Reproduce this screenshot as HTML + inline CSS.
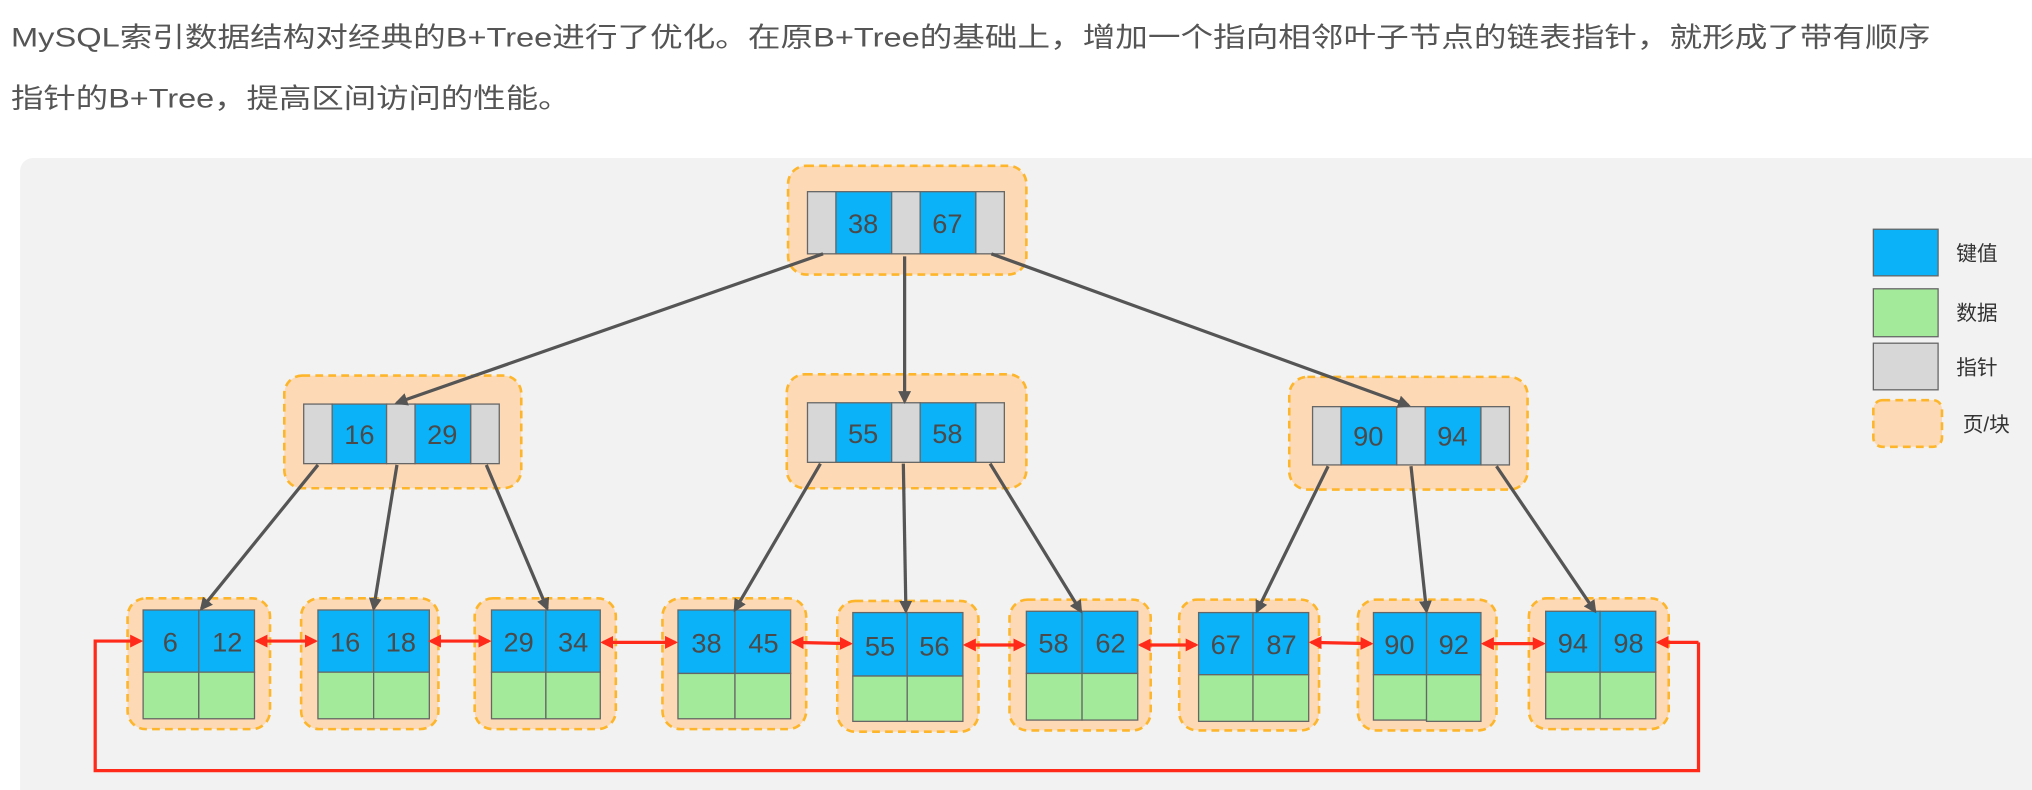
<!DOCTYPE html>
<html><head><meta charset="utf-8"><style>
html,body{margin:0;padding:0;background:#fff;}
svg{display:block;}
</style></head><body>
<svg width="2032" height="790" viewBox="0 0 1568 610" xmlns="http://www.w3.org/2000/svg">
<defs>
<marker id="ag" markerWidth="10" markerHeight="10" refX="8" refY="5" orient="auto" markerUnits="userSpaceOnUse"><path d="M0,0 L10,5 L0,10 z" fill="#555"/></marker>
<marker id="ar" markerWidth="10" markerHeight="10" refX="8" refY="5" orient="auto" markerUnits="userSpaceOnUse"><path d="M0,0 L10,5 L0,10 z" fill="#ff2a1a"/></marker>
<marker id="arS" markerWidth="10" markerHeight="10" refX="2" refY="5" orient="auto" markerUnits="userSpaceOnUse"><path d="M10,0 L0,5 L10,10 z" fill="#ff2a1a"/></marker>
</defs>
<g font-family="'Liberation Sans','Noto Sans CJK SC',sans-serif" fill="#555" font-size="21">
<text x="8" y="36" textLength="1482" lengthAdjust="spacingAndGlyphs">MySQL索引数据结构对经典的B+Tree进行了优化。在原B+Tree的基础上，增加一个指向相邻叶子节点的链表指针，就形成了带有顺序</text>
<text x="8" y="83" textLength="432" lengthAdjust="spacingAndGlyphs">指针的B+Tree，提高区间访问的性能。</text>
</g>
<rect x="15" y="122" width="1580" height="500" rx="10" fill="#f2f2f2"/>

<g fill="#fdd9b5" stroke="#fdb62b" stroke-width="2" stroke-dasharray="6,4">
<rect x="608" y="128" width="184" height="84" rx="14"/>
<rect x="219" y="290" width="183" height="87" rx="14"/>
<rect x="607" y="289" width="185" height="88" rx="14"/>
<rect x="995" y="291" width="184" height="87" rx="14"/>
<rect x="98" y="462" width="110" height="101" rx="14"/>
<rect x="232" y="462" width="106" height="101" rx="14"/>
<rect x="366" y="462" width="109" height="101" rx="14"/>
<rect x="511" y="462" width="111" height="101" rx="14"/>
<rect x="646" y="464" width="109" height="101" rx="14"/>
<rect x="779" y="463" width="109" height="101" rx="14"/>
<rect x="910" y="463" width="108" height="101" rx="14"/>
<rect x="1048" y="463" width="107" height="101" rx="14"/>
<rect x="1180" y="462" width="108" height="101" rx="14"/>
<rect x="1446" y="309" width="53" height="36" rx="7"/>
</g>

<g stroke="#666" stroke-width="1">
<!-- root -->
<rect x="623" y="148" width="22" height="48" fill="#d7d7d7"/><rect x="645" y="148" width="43" height="48" fill="#0bb2f7"/><rect x="688" y="148" width="22" height="48" fill="#d7d7d7"/><rect x="710" y="148" width="43" height="48" fill="#0bb2f7"/><rect x="753" y="148" width="22" height="48" fill="#d7d7d7"/>
<rect x="234" y="312" width="22" height="46" fill="#d7d7d7"/><rect x="256" y="312" width="42" height="46" fill="#0bb2f7"/><rect x="298" y="312" width="22" height="46" fill="#d7d7d7"/><rect x="320" y="312" width="43" height="46" fill="#0bb2f7"/><rect x="363" y="312" width="22" height="46" fill="#d7d7d7"/>
<rect x="623" y="311" width="22" height="46" fill="#d7d7d7"/><rect x="645" y="311" width="43" height="46" fill="#0bb2f7"/><rect x="688" y="311" width="22" height="46" fill="#d7d7d7"/><rect x="710" y="311" width="43" height="46" fill="#0bb2f7"/><rect x="753" y="311" width="22" height="46" fill="#d7d7d7"/>
<rect x="1013" y="314" width="22" height="45" fill="#d7d7d7"/><rect x="1035" y="314" width="43" height="45" fill="#0bb2f7"/><rect x="1078" y="314" width="22" height="45" fill="#d7d7d7"/><rect x="1100" y="314" width="43" height="45" fill="#0bb2f7"/><rect x="1143" y="314" width="22" height="45" fill="#d7d7d7"/>
<!-- legend -->
<rect x="1446" y="177" width="50" height="36" fill="#0bb2f7"/>
<rect x="1446" y="223" width="50" height="37" fill="#a3eb9a"/>
<rect x="1446" y="265" width="50" height="36" fill="#d7d7d7"/>
</g>

<g stroke="#666" stroke-width="1" id="leaves">
<g transform="translate(110,471)"><rect width="43" height="48" fill="#0bb2f7"/><rect x="43" width="43" height="48" fill="#0bb2f7"/><rect y="48" width="43" height="36" fill="#a3eb9a"/><rect x="43" y="48" width="43" height="36" fill="#a3eb9a"/></g>
<g transform="translate(245,471)"><rect width="43" height="48" fill="#0bb2f7"/><rect x="43" width="43" height="48" fill="#0bb2f7"/><rect y="48" width="43" height="36" fill="#a3eb9a"/><rect x="43" y="48" width="43" height="36" fill="#a3eb9a"/></g>
<g transform="translate(379,471)"><rect width="42" height="48" fill="#0bb2f7"/><rect x="42" width="42" height="48" fill="#0bb2f7"/><rect y="48" width="42" height="36" fill="#a3eb9a"/><rect x="42" y="48" width="42" height="36" fill="#a3eb9a"/></g>
<g transform="translate(523,471)"><rect width="44" height="49" fill="#0bb2f7"/><rect x="44" width="43" height="49" fill="#0bb2f7"/><rect y="49" width="44" height="35" fill="#a3eb9a"/><rect x="44" y="49" width="43" height="35" fill="#a3eb9a"/></g>
<g transform="translate(658,473)"><rect width="42" height="49" fill="#0bb2f7"/><rect x="42" width="43" height="49" fill="#0bb2f7"/><rect y="49" width="42" height="35" fill="#a3eb9a"/><rect x="42" y="49" width="43" height="35" fill="#a3eb9a"/></g>
<g transform="translate(792,472)"><rect width="43" height="48" fill="#0bb2f7"/><rect x="43" width="43" height="48" fill="#0bb2f7"/><rect y="48" width="43" height="36" fill="#a3eb9a"/><rect x="43" y="48" width="43" height="36" fill="#a3eb9a"/></g>
<g transform="translate(925,473)"><rect width="42" height="48" fill="#0bb2f7"/><rect x="42" width="43" height="48" fill="#0bb2f7"/><rect y="48" width="42" height="36" fill="#a3eb9a"/><rect x="42" y="48" width="43" height="36" fill="#a3eb9a"/></g>
<g transform="translate(1060,473)"><rect width="41" height="48" fill="#0bb2f7"/><rect x="41" width="42" height="48" fill="#0bb2f7"/><rect y="48" width="41" height="35" fill="#a3eb9a"/><rect x="41" y="48" width="42" height="36" fill="#a3eb9a"/></g>
<g transform="translate(1193,472)"><rect width="42" height="47" fill="#0bb2f7"/><rect x="42" width="43" height="47" fill="#0bb2f7"/><rect y="47" width="42" height="36" fill="#a3eb9a"/><rect x="42" y="47" width="43" height="36" fill="#a3eb9a"/></g>
</g>

<g font-family="'Liberation Sans','Noto Sans CJK SC',sans-serif" fill="#4a4a4a" font-size="21" text-anchor="middle">
<text x="666" y="180">38</text><text x="731" y="180">67</text>
<text x="277" y="343">16</text><text x="341" y="343">29</text>
<text x="666" y="342">55</text><text x="731" y="342">58</text>
<text x="1056" y="344">90</text><text x="1121" y="344">94</text>
<text x="131" y="503">6</text><text x="175" y="503">12</text>
<text x="266" y="503">16</text><text x="309" y="503">18</text>
<text x="400" y="503">29</text><text x="442" y="503">34</text>
<text x="545" y="504">38</text><text x="589" y="504">45</text>
<text x="679" y="506">55</text><text x="721" y="506">56</text>
<text x="813" y="504">58</text><text x="857" y="504">62</text>
<text x="946" y="505">67</text><text x="989" y="505">87</text>
<text x="1080" y="505">90</text><text x="1122" y="505">92</text>
<text x="1214" y="504">94</text><text x="1257" y="504">98</text>
</g>
<g font-family="'Liberation Sans','Noto Sans CJK SC',sans-serif" fill="#333" font-size="16">
<text x="1510" y="201">键值</text>
<text x="1510" y="247">数据</text>
<text x="1510" y="289">指针</text>
<text x="1515" y="333">页/块</text>
</g>

<g stroke="#555" stroke-width="2.5" fill="none" marker-end="url(#ag)">
<line x1="635" y1="196" x2="306" y2="311"/>
<line x1="698" y1="198" x2="698" y2="310"/>
<line x1="765" y1="196" x2="1087" y2="313"/>
<line x1="245" y1="359" x2="155" y2="470"/>
<line x1="306" y1="359" x2="288" y2="470"/>
<line x1="375" y1="359" x2="422" y2="470"/>
<line x1="633" y1="358" x2="567" y2="471"/>
<line x1="697" y1="358" x2="699" y2="472"/>
<line x1="764" y1="358" x2="834" y2="472"/>
<line x1="1025" y1="360" x2="970" y2="472"/>
<line x1="1089" y1="360" x2="1101" y2="472"/>
<line x1="1155" y1="360" x2="1231" y2="472"/>
</g>

<g stroke="#ff2a1a" stroke-width="2.5" fill="none" marker-end="url(#ar)" marker-start="url(#arS)">
<line x1="198" y1="495" x2="243" y2="495"/>
<line x1="332" y1="495" x2="377" y2="495"/>
<line x1="465" y1="496" x2="521" y2="496"/>
<line x1="612" y1="496" x2="656" y2="497"/>
<line x1="745" y1="498" x2="790" y2="498"/>
<line x1="880" y1="498" x2="923" y2="498"/>
<line x1="1012" y1="496" x2="1058" y2="497"/>
<line x1="1145" y1="497" x2="1191" y2="497"/>
</g>
<polyline points="1311,496 1311,595 73,595 73,495 108,495" stroke="#ff2a1a" stroke-width="2.5" fill="none" marker-end="url(#ar)"/>
<polyline points="1311,496 1280,496" stroke="#ff2a1a" stroke-width="2.5" fill="none" marker-end="url(#ar)"/>
</svg>
</body></html>
